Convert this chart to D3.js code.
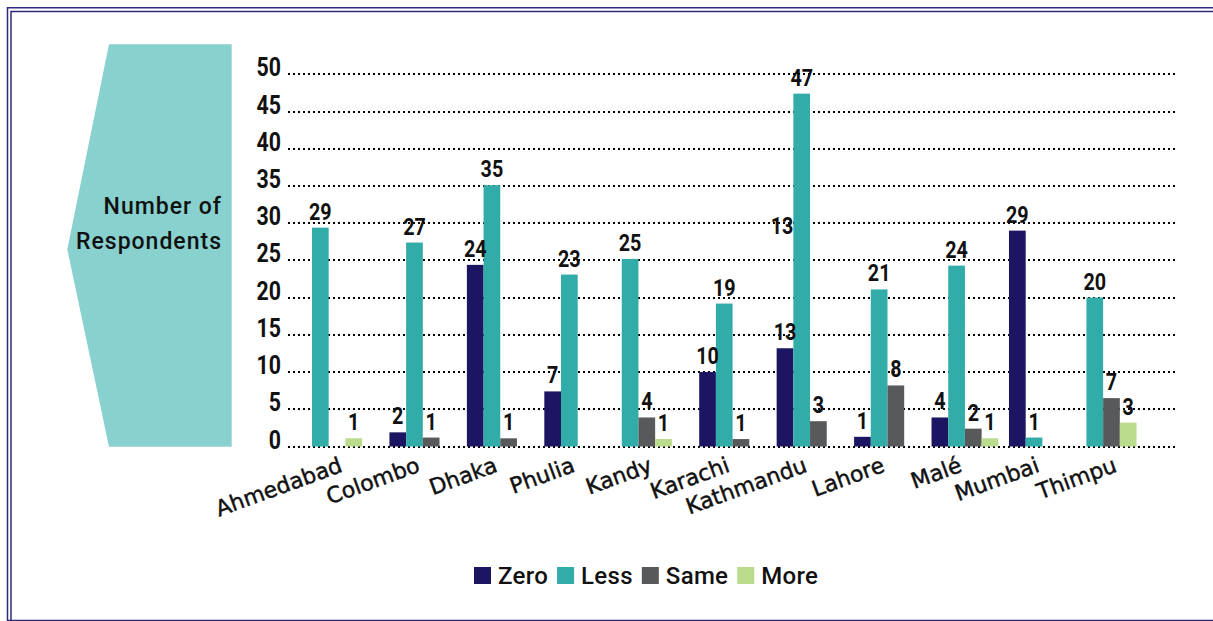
<!DOCTYPE html>
<html>
<head>
<meta charset="utf-8">
<script src="https://cdn.jsdelivr.net/npm/d3@7"></script>
<style>
  html, body { margin: 0; padding: 0; background: #fff; }
  svg { display: block; }
</style>
</head>
<body>
<svg id="chart" width="1213" height="621"></svg>
<script>
// ---- data ----
const categories = ["Ahmedabad", "Colombo", "Dhaka", "Phulia", "Kandy", "Karachi", "Kathmandu", "Lahore", "Malé", "Mumbai", "Thimpu"];
const seriesNames = ["Zero", "Less", "Same", "More"];
const zeroValues = [null, 1.9, 24.4, 7.4, null, 10.0, 13.2, 1.3, 3.9, 29.0, null];
const lessValues = [29.4, 27.4, 35.1, 23.1, 25.2, 19.2, 47.4, 21.1, 24.3, 1.2, 20.0];
const sameValues = [0, 1.2, 1.1, null, 3.9, 1.0, 3.4, 8.2, 2.4, null, 6.5];
const moreValues = [1.1, null, null, null, 1.0, null, null, null, 1.1, null, 3.2];
const yTicks = [0, 5, 10, 15, 20, 25, 30, 35, 40, 45, 50];
const axisTitle = ["Number of", "Respondents"];
const strayLabel = { category: "Kathmandu", series: "Zero", text: "13", value: 28.5 };

const seriesValues = [zeroValues, lessValues, sameValues, moreValues];
const colors = { Zero: "#1c1562", Less: "#32aca8", Same: "#58595b", More: "#b9db8b" };

// ---- setup ----
const svg = d3.select("#chart");
const textFont = "Roboto, 'Noto Sans', sans-serif";

// condensed digit text helper (DIN-like narrow numerals)
function digits(sel, size) {
  return sel.attr("font-family", textFont).attr("font-weight", 700)
    .attr("font-size", size).attr("fill", "#111");
}

// border (double line, cut off at right/bottom)
svg.append("rect").attr("x", 7.5).attr("y", 7.75).attr("width", 1230).attr("height", 612.75)
  .attr("fill", "none").attr("stroke", "#2d2a7c").attr("stroke-width", 1.5);
svg.append("rect").attr("x", 11).attr("y", 11.5).attr("width", 1230).attr("height", 640)
  .attr("fill", "none").attr("stroke", "#2d2a7c").attr("stroke-width", 1.5);

// arrow shape behind axis title
svg.append("polygon")
  .attr("points", [[109, 44.3], [231.7, 44.3], [231.7, 446.7], [109, 446.7], [67.3, 249.3]].map(p => p.join(",")).join(" "))
  .attr("fill", "#88d1cf");

svg.append("g").selectAll("text").data(axisTitle).join("text")
  .attr("x", 222).attr("y", (d, i) => 213.5 + i * 35.5)
  .attr("text-anchor", "end")
  .attr("font-family", textFont).attr("font-weight", 500).attr("font-size", 23)
  .attr("letter-spacing", 1)
  .attr("fill", "#111")
  .text(d => d);

// scales
const y = d3.scaleLinear().domain([0, 50]).range([446.5, 74.3]);
const x = d3.scaleBand().domain(categories).range([298.3, 1150.2]);
const slotW = 16.7;

// gridlines (dotted) and y tick labels
const grid = svg.append("g");
grid.selectAll("line").data(yTicks).join("line")
  .attr("x1", 288).attr("x2", 1178)
  .attr("y1", d => Math.round(y(d))).attr("y2", d => Math.round(y(d)))
  .attr("stroke", "#000").attr("stroke-width", 2).attr("stroke-dasharray", "2,3");
grid.selectAll("text").data(yTicks).join("text")
  .attr("transform", d => `translate(281,${y(d) + 2}) scale(0.82,1)`)
  .attr("text-anchor", "end")
  .call(digits, 26)
  .text(d => d);

// bars
const bars = [];
categories.forEach((cat, i) => {
  let j = 0;
  seriesNames.forEach((s, k) => {
    const v = seriesValues[k][i];
    if (v === null || v === undefined) return;
    const cx = x(cat) + x.bandwidth() / 2;
    bars.push({ cat, series: s, value: v, x0: cx - 1.5 * slotW + j * slotW });
    j++;
  });
});

svg.append("g").selectAll("rect").data(bars.filter(d => d.value > 0)).join("rect")
  .attr("x", d => d.x0).attr("width", slotW)
  .attr("y", d => y(d.value)).attr("height", d => y(0) - y(d.value))
  .attr("fill", d => colors[d.series]);

svg.append("g").selectAll("text").data(bars.filter(d => d.value > 0)).join("text")
  .attr("transform", d => `translate(${d.x0 + slotW / 2},${y(d.value) - 8}) scale(0.84,1)`)
  .attr("text-anchor", "middle")
  .call(digits, 23.5)
  .text(d => Math.round(d.value));

// stray label present in the original graphic
const sb = bars.find(d => d.cat === strayLabel.category && d.series === strayLabel.series);
svg.append("text")
  .attr("transform", `translate(${sb.x0 + slotW / 2 - 3},${y(strayLabel.value)}) scale(0.84,1)`)
  .attr("text-anchor", "middle")
  .call(digits, 23.5)
  .text(strayLabel.text);

// x labels rotated
svg.append("g").selectAll("text").data(categories).join("text")
  .attr("transform", d => `translate(${x(d) + x.bandwidth() / 2 + 1},${y(0) + 9}) rotate(-20)`)
  .attr("text-anchor", "end")
  .attr("dy", "0.76em")
  .attr("font-family", "'DejaVu Sans', sans-serif").attr("font-size", 22)
  .attr("fill", "#111").attr("stroke", "#111").attr("stroke-width", 0.45)
  .text(d => d);

// legend
const legend = svg.append("g");
let lx = 474;
seriesNames.forEach(s => {
  legend.append("rect").attr("x", lx).attr("y", 567).attr("width", 17).attr("height", 17).attr("fill", colors[s]);
  const t = legend.append("text").attr("x", lx + 24).attr("y", 583.5)
    .attr("font-family", textFont).attr("font-weight", 500).attr("font-size", 24)
    .attr("letter-spacing", 0.3)
    .attr("fill", "#111").text(s);
  lx += 24 + t.node().getComputedTextLength() + 9;
});
</script>
</body>
</html>
